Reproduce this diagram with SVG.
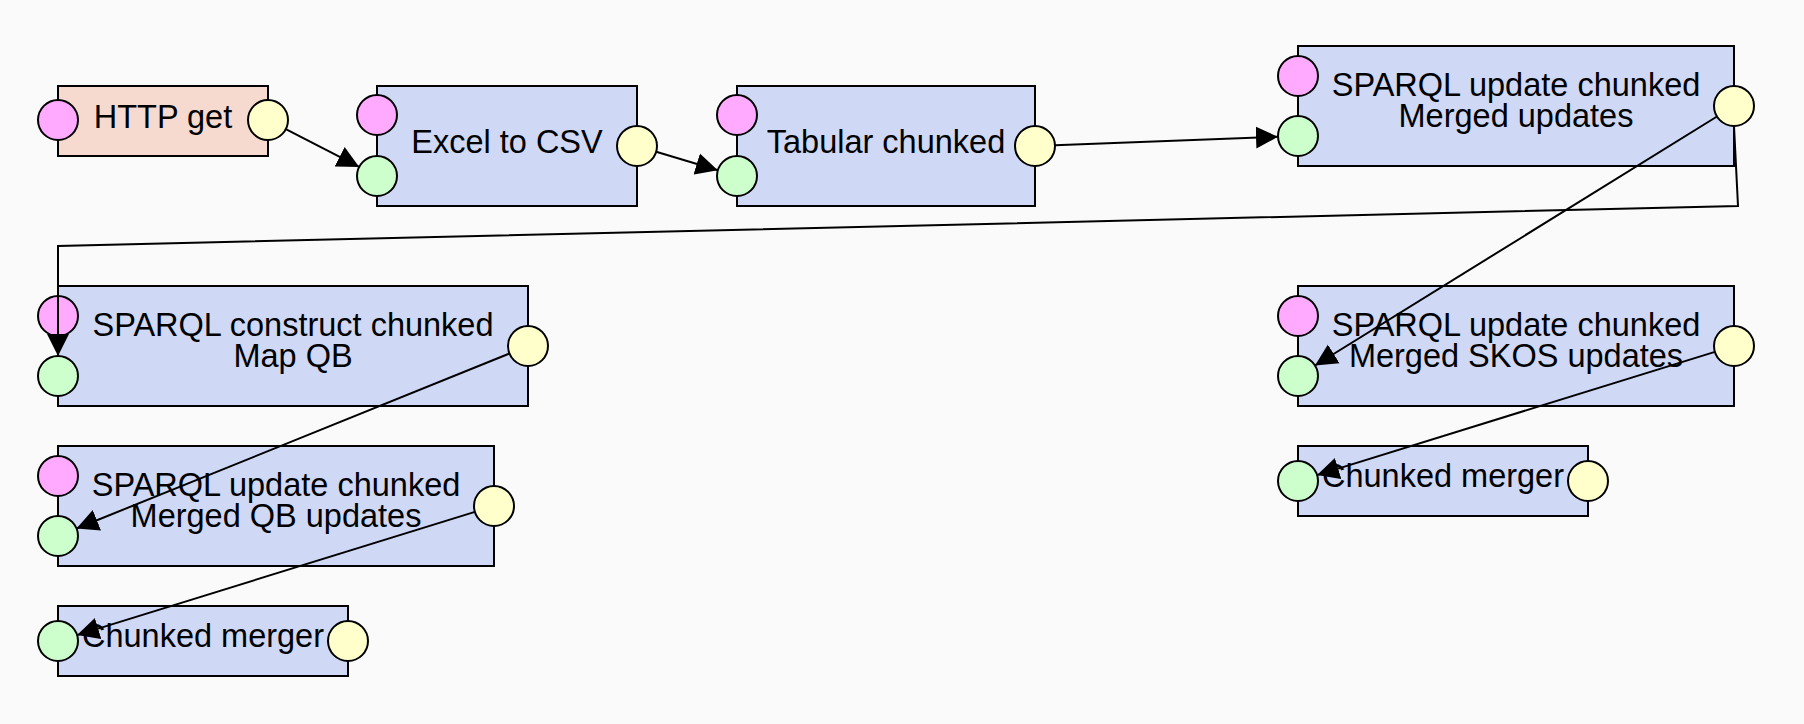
<svg xmlns="http://www.w3.org/2000/svg" width="1804" height="724" viewBox="0 0 1804 724">
<style>
.bg{fill:#fafafa}
.node{fill:#cfd8f5;stroke:#000;stroke-width:2}
.src{fill:#f6dad0;stroke:#000;stroke-width:2}
.cfg{fill:#ffaaff;stroke:#000;stroke-width:2}
.in{fill:#ccffcc;stroke:#000;stroke-width:2}
.out{fill:#ffffcc;stroke:#000;stroke-width:2}
text{font-family:"Liberation Sans",Arial,Helvetica,sans-serif;font-size:32.5px;fill:#000;text-anchor:middle}
.edge{fill:none;stroke:#000;stroke-width:2;marker-end:url(#arrow)}
</style>
<defs>
<marker id="arrow" markerUnits="userSpaceOnUse" markerWidth="24" markerHeight="24" refX="22" refY="11" orient="auto" viewBox="0 0 24 22">
<path d="M0,0 L22,11 L0,22 z" fill="#000"/>
</marker>
</defs>
<rect class="bg" x="0" y="0" width="1804" height="724"/>
<g id="node-http-get">
<rect class="src" x="58" y="86" width="210" height="70"/>
<circle class="cfg" cx="58" cy="120" r="20"/>
<circle class="out" cx="268" cy="120" r="20"/>
<text x="163" y="128">HTTP get</text>
</g>
<g id="node-excel-to-csv">
<rect class="node" x="377" y="86" width="260" height="120"/>
<circle class="cfg" cx="377" cy="115" r="20"/>
<circle class="in" cx="377" cy="176" r="20"/>
<circle class="out" cx="637" cy="146" r="20"/>
<text x="507" y="152.5">Excel to CSV</text>
</g>
<g id="node-tabular-chunked">
<rect class="node" x="737" y="86" width="298" height="120"/>
<circle class="cfg" cx="737" cy="115" r="20"/>
<circle class="in" cx="737" cy="176" r="20"/>
<circle class="out" cx="1035" cy="146" r="20"/>
<text x="886" y="152.5">Tabular chunked</text>
</g>
<g id="node-sparql-merged-updates">
<rect class="node" x="1298" y="46" width="436" height="120"/>
<circle class="cfg" cx="1298" cy="76" r="20"/>
<circle class="in" cx="1298" cy="136" r="20"/>
<circle class="out" cx="1734" cy="106" r="20"/>
<text x="1516" y="95.5">SPARQL update chunked<tspan x="1516" dy="31.5">Merged updates</tspan></text>
</g>
<g id="node-sparql-construct-map-qb">
<rect class="node" x="58" y="286" width="470" height="120"/>
<circle class="cfg" cx="58" cy="316" r="20"/>
<circle class="in" cx="58" cy="376" r="20"/>
<circle class="out" cx="528" cy="346" r="20"/>
<text x="293" y="335.5">SPARQL construct chunked<tspan x="293" dy="31.5">Map QB</tspan></text>
</g>
<g id="node-sparql-merged-qb-updates">
<rect class="node" x="58" y="446" width="436" height="120"/>
<circle class="cfg" cx="58" cy="476" r="20"/>
<circle class="in" cx="58" cy="536" r="20"/>
<circle class="out" cx="494" cy="506" r="20"/>
<text x="276" y="495.5">SPARQL update chunked<tspan x="276" dy="31.5">Merged QB updates</tspan></text>
</g>
<g id="node-chunked-merger-left">
<rect class="node" x="58" y="606" width="290" height="70"/>
<circle class="in" cx="58" cy="641" r="20"/>
<circle class="out" cx="348" cy="641" r="20"/>
<text x="203" y="647">Chunked merger</text>
</g>
<g id="node-sparql-merged-skos-updates">
<rect class="node" x="1298" y="286" width="436" height="120"/>
<circle class="cfg" cx="1298" cy="316" r="20"/>
<circle class="in" cx="1298" cy="376" r="20"/>
<circle class="out" cx="1734" cy="346" r="20"/>
<text x="1516" y="335.5">SPARQL update chunked<tspan x="1516" dy="31.5">Merged SKOS updates</tspan></text>
</g>
<g id="node-chunked-merger-right">
<rect class="node" x="1298" y="446" width="290" height="70"/>
<circle class="in" cx="1298" cy="481" r="20"/>
<circle class="out" cx="1588" cy="481" r="20"/>
<text x="1443" y="487">Chunked merger</text>
</g>
<g id="connectors">
<path class="edge" d="M285.8,129.1 L359.2,166.9"/>
<path class="edge" d="M656.2,151.7 L717.8,170.3"/>
<path class="edge" d="M1055,145.2 L1278,136.8"/>
<path class="edge" d="M1734,126 L1738,206 L58,246 L58,356"/>
<path class="edge" d="M1717,116.5 L1315,365.5"/>
<path class="edge" d="M509.5,353.5 L76.5,528.5"/>
<path class="edge" d="M474.9,511.9 L77.1,635.1"/>
<path class="edge" d="M1714.9,351.9 L1317.1,475.1"/>
</g>
</svg>
